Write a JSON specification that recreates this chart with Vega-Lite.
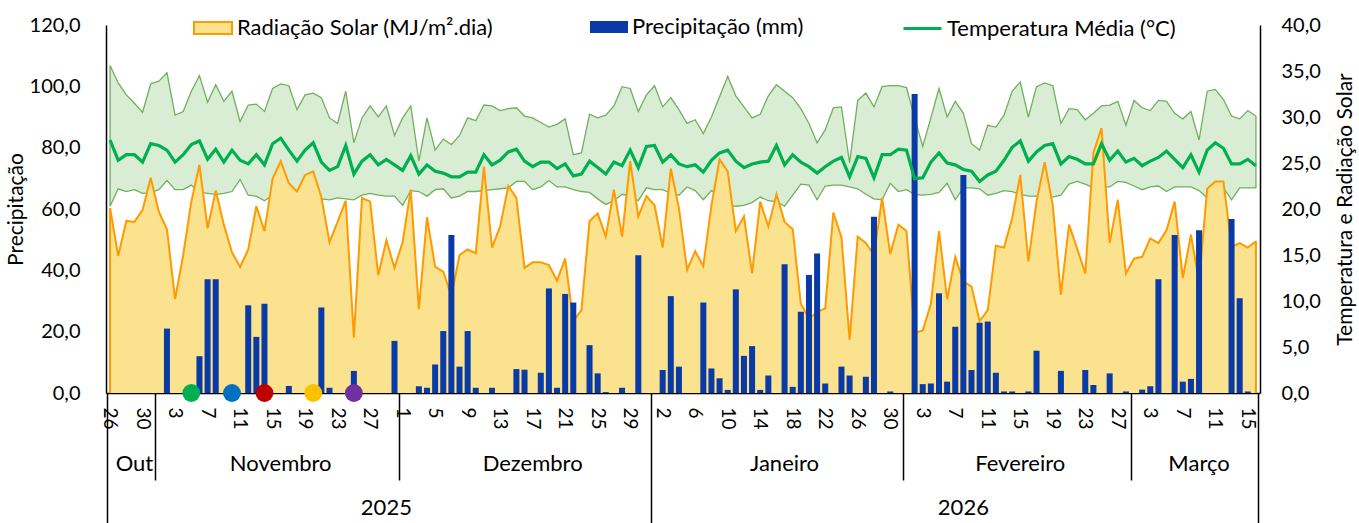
{
"$schema": "https://vega.github.io/schema/vega-lite/v6.json",
"width": 1154, "height": 368,
"autosize": {"type": "none"},
"padding": {"left": 106, "top": 25, "right": 99, "bottom": 130},
"config": {
  "font": "Lato",
  "view": {"stroke": null},
  "axis": {"labelFont": "Lato", "titleFont": "Lato", "labelColor": "#000", "titleColor": "#000", "labelFontSize": 20, "titleFontSize": 21, "titleFontWeight": "normal", "domainColor": "#000", "tickColor": "#000", "grid": false},
  "legend": {"labelFont": "Lato", "labelFontSize": 22, "labelColor": "#000", "labelLimit": 400, "padding": 0, "labelOffset": 4, "symbolSize": 1444, "symbolOpacity": 1}
},
"datasets": {
"w": [
{"d":"2025-10-26","p":0,"r":20.1,"tm":27.5,"tx":35.6,"tn":20.3},
{"d":"2025-10-27","p":0,"r":14.9,"tm":25.3,"tx":33.7,"tn":22.2},
{"d":"2025-10-28","p":0,"r":18.7,"tm":25.9,"tx":32.4,"tn":21.9},
{"d":"2025-10-29","p":0,"r":18.6,"tm":25.9,"tx":31.5,"tn":22.1},
{"d":"2025-10-30","p":0,"r":19.9,"tm":25.1,"tx":30.5,"tn":21.7},
{"d":"2025-10-31","p":0,"r":23.4,"tm":27.1,"tx":33.6,"tn":21.8},
{"d":"2025-11-01","p":0,"r":19.7,"tm":26.9,"tx":33.9,"tn":22.1},
{"d":"2025-11-02","p":21.0,"r":17.8,"tm":26.4,"tx":34.8,"tn":23.1},
{"d":"2025-11-03","p":0,"r":10.2,"tm":25.1,"tx":30.2,"tn":22.1},
{"d":"2025-11-04","p":0,"r":15.0,"tm":25.9,"tx":30.6,"tn":22.1},
{"d":"2025-11-05","p":0,"r":20.8,"tm":27.0,"tx":32.8,"tn":22.6},
{"d":"2025-11-06","p":12.0,"r":24.8,"tm":27.4,"tx":34.5,"tn":21.8},
{"d":"2025-11-07","p":37.1,"r":17.9,"tm":25.4,"tx":31.6,"tn":21.7},
{"d":"2025-11-08","p":37.1,"r":22.0,"tm":26.5,"tx":33.5,"tn":21.6},
{"d":"2025-11-09","p":0,"r":18.3,"tm":25.1,"tx":31.7,"tn":21.7},
{"d":"2025-11-10","p":0,"r":15.3,"tm":26.4,"tx":32.8,"tn":21.9},
{"d":"2025-11-11","p":0,"r":13.7,"tm":25.3,"tx":29.5,"tn":23.2},
{"d":"2025-11-12","p":28.6,"r":15.6,"tm":24.9,"tx":31.3,"tn":21.5},
{"d":"2025-11-13","p":18.3,"r":20.3,"tm":25.9,"tx":31.4,"tn":21.4},
{"d":"2025-11-14","p":29.1,"r":17.6,"tm":24.8,"tx":30.6,"tn":20.9},
{"d":"2025-11-15","p":0,"r":23.3,"tm":27.1,"tx":33.1,"tn":21.5},
{"d":"2025-11-16","p":0,"r":25.2,"tm":27.7,"tx":33.6,"tn":22.1},
{"d":"2025-11-17","p":2.3,"r":22.8,"tm":26.4,"tx":33.4,"tn":22.4},
{"d":"2025-11-18","p":0,"r":21.9,"tm":25.2,"tx":30.8,"tn":21.9},
{"d":"2025-11-19","p":0,"r":23.7,"tm":26.4,"tx":32.4,"tn":21.8},
{"d":"2025-11-20","p":0,"r":24.1,"tm":27.2,"tx":32.6,"tn":21.5},
{"d":"2025-11-21","p":27.9,"r":21.3,"tm":25.1,"tx":32.1,"tn":21.1},
{"d":"2025-11-22","p":1.7,"r":16.4,"tm":24.2,"tx":29.9,"tn":21.0},
{"d":"2025-11-23","p":0,"r":18.6,"tm":24.6,"tx":29.3,"tn":21.2},
{"d":"2025-11-24","p":0,"r":20.9,"tm":26.9,"tx":32.8,"tn":21.1},
{"d":"2025-11-25","p":7.2,"r":6.0,"tm":23.8,"tx":27.2,"tn":21.0},
{"d":"2025-11-26","p":0,"r":21.2,"tm":25.2,"tx":29.9,"tn":21.5},
{"d":"2025-11-27","p":0,"r":20.8,"tm":25.9,"tx":31.2,"tn":21.7},
{"d":"2025-11-28","p":0,"r":12.8,"tm":24.8,"tx":30.0,"tn":21.5},
{"d":"2025-11-29","p":0,"r":16.6,"tm":25.4,"tx":31.2,"tn":21.4},
{"d":"2025-11-30","p":17.0,"r":13.6,"tm":24.8,"tx":28.0,"tn":21.4},
{"d":"2025-12-01","p":0,"r":16.4,"tm":24.2,"tx":29.9,"tn":20.4},
{"d":"2025-12-02","p":0,"r":22.1,"tm":25.8,"tx":31.2,"tn":22.0},
{"d":"2025-12-03","p":2.2,"r":9.1,"tm":23.8,"tx":25.2,"tn":21.9},
{"d":"2025-12-04","p":1.7,"r":19.1,"tm":24.8,"tx":29.9,"tn":21.4},
{"d":"2025-12-05","p":9.3,"r":13.7,"tm":24.1,"tx":26.4,"tn":22.1},
{"d":"2025-12-06","p":20.2,"r":13.2,"tm":23.9,"tx":27.6,"tn":22.2},
{"d":"2025-12-07","p":51.5,"r":10.5,"tm":23.5,"tx":27.0,"tn":21.2},
{"d":"2025-12-08","p":8.6,"r":15.0,"tm":23.5,"tx":28.0,"tn":21.4},
{"d":"2025-12-09","p":20.2,"r":15.6,"tm":24.0,"tx":29.9,"tn":21.9},
{"d":"2025-12-10","p":1.7,"r":15.2,"tm":24.0,"tx":29.6,"tn":21.9},
{"d":"2025-12-11","p":0,"r":24.6,"tm":25.9,"tx":31.3,"tn":22.0},
{"d":"2025-12-12","p":1.7,"r":15.8,"tm":24.8,"tx":31.2,"tn":22.1},
{"d":"2025-12-13","p":0,"r":18.1,"tm":25.3,"tx":30.7,"tn":22.2},
{"d":"2025-12-14","p":0,"r":22.5,"tm":26.2,"tx":30.9,"tn":22.3},
{"d":"2025-12-15","p":7.8,"r":21.2,"tm":26.5,"tx":31.0,"tn":23.0},
{"d":"2025-12-16","p":7.6,"r":13.6,"tm":25.2,"tx":30.1,"tn":23.0},
{"d":"2025-12-17","p":0,"r":14.2,"tm":24.6,"tx":29.9,"tn":22.1},
{"d":"2025-12-18","p":6.6,"r":14.2,"tm":25.1,"tx":29.4,"tn":22.4},
{"d":"2025-12-19","p":34.1,"r":13.9,"tm":25.1,"tx":28.9,"tn":23.1},
{"d":"2025-12-20","p":1.7,"r":12.2,"tm":24.4,"tx":29.2,"tn":22.4},
{"d":"2025-12-21","p":32.3,"r":14.6,"tm":24.9,"tx":29.8,"tn":22.4},
{"d":"2025-12-22","p":29.5,"r":7.8,"tm":23.6,"tx":25.9,"tn":22.1},
{"d":"2025-12-23","p":0,"r":9.0,"tm":23.8,"tx":26.1,"tn":21.9},
{"d":"2025-12-24","p":15.6,"r":18.7,"tm":25.2,"tx":30.3,"tn":21.8},
{"d":"2025-12-25","p":6.4,"r":19.5,"tm":24.5,"tx":29.9,"tn":21.1},
{"d":"2025-12-26","p":0.3,"r":17.0,"tm":23.8,"tx":30.2,"tn":20.5},
{"d":"2025-12-27","p":0,"r":22.1,"tm":25.1,"tx":31.2,"tn":20.9},
{"d":"2025-12-28","p":1.7,"r":17.0,"tm":24.7,"tx":33.3,"tn":21.6},
{"d":"2025-12-29","p":0,"r":25.2,"tm":26.4,"tx":33.1,"tn":21.4},
{"d":"2025-12-30","p":44.9,"r":19.2,"tm":24.5,"tx":30.6,"tn":20.9},
{"d":"2025-12-31","p":0,"r":21.4,"tm":26.8,"tx":32.4,"tn":22.3},
{"d":"2026-01-01","p":0,"r":20.4,"tm":26.9,"tx":33.4,"tn":22.1},
{"d":"2026-01-02","p":7.5,"r":15.8,"tm":25.1,"tx":31.1,"tn":22.1},
{"d":"2026-01-03","p":31.6,"r":24.4,"tm":25.9,"tx":32.1,"tn":21.7},
{"d":"2026-01-04","p":8.6,"r":20.1,"tm":24.9,"tx":30.8,"tn":21.5},
{"d":"2026-01-05","p":0,"r":13.4,"tm":24.6,"tx":29.3,"tn":22.4},
{"d":"2026-01-06","p":0,"r":15.4,"tm":24.8,"tx":29.7,"tn":22.0},
{"d":"2026-01-07","p":29.5,"r":13.8,"tm":24.0,"tx":28.2,"tn":21.0},
{"d":"2026-01-08","p":8.0,"r":20.4,"tm":25.3,"tx":30.0,"tn":22.0},
{"d":"2026-01-09","p":4.8,"r":25.4,"tm":26.1,"tx":32.2,"tn":21.5},
{"d":"2026-01-10","p":1.0,"r":24.1,"tm":26.4,"tx":34.4,"tn":20.4},
{"d":"2026-01-11","p":33.8,"r":17.6,"tm":25.2,"tx":32.3,"tn":20.3},
{"d":"2026-01-12","p":12.1,"r":19.2,"tm":24.5,"tx":31.1,"tn":20.4},
{"d":"2026-01-13","p":15.3,"r":13.0,"tm":24.9,"tx":29.9,"tn":20.7},
{"d":"2026-01-14","p":1.0,"r":20.8,"tm":25.1,"tx":30.3,"tn":21.3},
{"d":"2026-01-15","p":5.7,"r":18.1,"tm":25.2,"tx":32.3,"tn":20.9},
{"d":"2026-01-16","p":0,"r":21.6,"tm":26.9,"tx":33.5,"tn":20.8},
{"d":"2026-01-17","p":42.0,"r":18.6,"tm":24.8,"tx":32.8,"tn":20.3},
{"d":"2026-01-18","p":2.0,"r":17.8,"tm":25.9,"tx":32.1,"tn":21.5},
{"d":"2026-01-19","p":26.5,"r":9.7,"tm":25.1,"tx":30.9,"tn":22.7},
{"d":"2026-01-20","p":38.5,"r":8.1,"tm":24.6,"tx":29.3,"tn":22.6},
{"d":"2026-01-21","p":45.5,"r":8.8,"tm":23.9,"tx":27.2,"tn":21.0},
{"d":"2026-01-22","p":3.1,"r":9.2,"tm":24.6,"tx":28.6,"tn":22.5},
{"d":"2026-01-23","p":0,"r":19.6,"tm":25.2,"tx":31.0,"tn":22.6},
{"d":"2026-01-24","p":8.6,"r":16.9,"tm":25.6,"tx":31.1,"tn":22.6},
{"d":"2026-01-25","p":5.7,"r":5.8,"tm":23.5,"tx":25.0,"tn":22.4},
{"d":"2026-01-26","p":0,"r":17.0,"tm":25.7,"tx":31.8,"tn":22.2},
{"d":"2026-01-27","p":5.3,"r":16.3,"tm":25.5,"tx":32.6,"tn":21.6},
{"d":"2026-01-28","p":57.5,"r":15.0,"tm":23.4,"tx":31.1,"tn":21.1},
{"d":"2026-01-29","p":0,"r":21.2,"tm":25.9,"tx":33.3,"tn":21.0},
{"d":"2026-01-30","p":0.5,"r":15.1,"tm":25.9,"tx":33.4,"tn":22.8},
{"d":"2026-01-31","p":0,"r":18.3,"tm":26.5,"tx":33.4,"tn":21.9},
{"d":"2026-02-01","p":0,"r":17.6,"tm":26.4,"tx":33.2,"tn":22.1},
{"d":"2026-02-02","p":97.5,"r":6.5,"tm":23.3,"tx":29.9,"tn":21.6},
{"d":"2026-02-03","p":2.9,"r":6.8,"tm":23.4,"tx":26.8,"tn":21.5},
{"d":"2026-02-04","p":3.1,"r":9.7,"tm":25.1,"tx":29.9,"tn":21.6},
{"d":"2026-02-05","p":32.5,"r":17.6,"tm":26.1,"tx":33.1,"tn":21.8},
{"d":"2026-02-06","p":3.7,"r":10.2,"tm":25.0,"tx":30.0,"tn":22.8},
{"d":"2026-02-07","p":21.6,"r":14.8,"tm":24.8,"tx":31.7,"tn":21.0},
{"d":"2026-02-08","p":71.1,"r":12.1,"tm":24.3,"tx":30.4,"tn":22.3},
{"d":"2026-02-09","p":7.5,"r":11.6,"tm":24.1,"tx":27.1,"tn":22.3},
{"d":"2026-02-10","p":22.9,"r":7.8,"tm":23.0,"tx":26.4,"tn":22.2},
{"d":"2026-02-11","p":23.3,"r":9.0,"tm":23.7,"tx":29.1,"tn":21.5},
{"d":"2026-02-12","p":6.6,"r":16.0,"tm":24.1,"tx":28.9,"tn":21.7},
{"d":"2026-02-13","p":0.5,"r":15.8,"tm":25.3,"tx":30.2,"tn":22.0},
{"d":"2026-02-14","p":0.5,"r":19.0,"tm":26.7,"tx":32.8,"tn":21.9},
{"d":"2026-02-15","p":0,"r":23.7,"tm":27.4,"tx":33.8,"tn":21.6},
{"d":"2026-02-16","p":0.5,"r":14.3,"tm":25.2,"tx":30.0,"tn":21.4},
{"d":"2026-02-17","p":13.8,"r":20.8,"tm":26.2,"tx":33.3,"tn":21.4},
{"d":"2026-02-18","p":0,"r":25.1,"tm":26.9,"tx":33.7,"tn":21.5},
{"d":"2026-02-19","p":0,"r":20.4,"tm":27.1,"tx":33.4,"tn":21.3},
{"d":"2026-02-20","p":7.2,"r":10.7,"tm":24.9,"tx":29.3,"tn":21.5},
{"d":"2026-02-21","p":0,"r":18.3,"tm":25.7,"tx":30.9,"tn":22.7},
{"d":"2026-02-22","p":0,"r":15.7,"tm":25.4,"tx":30.8,"tn":23.0},
{"d":"2026-02-23","p":7.5,"r":13.0,"tm":24.9,"tx":29.7,"tn":22.7},
{"d":"2026-02-24","p":2.6,"r":26.1,"tm":24.9,"tx":30.4,"tn":22.3},
{"d":"2026-02-25","p":0,"r":28.8,"tm":27.1,"tx":31.2,"tn":22.4},
{"d":"2026-02-26","p":6.4,"r":16.3,"tm":25.3,"tx":31.3,"tn":22.4},
{"d":"2026-02-27","p":0,"r":21.0,"tm":26.3,"tx":31.7,"tn":23.0},
{"d":"2026-02-28","p":0.5,"r":13.0,"tm":25.1,"tx":29.1,"tn":22.9},
{"d":"2026-03-01","p":0,"r":14.6,"tm":25.5,"tx":31.8,"tn":22.5},
{"d":"2026-03-02","p":1.1,"r":14.8,"tm":24.7,"tx":31.0,"tn":22.1},
{"d":"2026-03-03","p":2.2,"r":16.8,"tm":25.2,"tx":30.7,"tn":22.4},
{"d":"2026-03-04","p":37.1,"r":16.3,"tm":25.6,"tx":31.8,"tn":22.5},
{"d":"2026-03-05","p":0,"r":17.7,"tm":26.3,"tx":31.7,"tn":21.9},
{"d":"2026-03-06","p":51.5,"r":20.8,"tm":25.4,"tx":30.4,"tn":22.4},
{"d":"2026-03-07","p":3.7,"r":12.5,"tm":24.5,"tx":29.8,"tn":22.4},
{"d":"2026-03-08","p":4.6,"r":17.2,"tm":25.9,"tx":30.6,"tn":22.4},
{"d":"2026-03-09","p":53.1,"r":12.1,"tm":24.0,"tx":27.5,"tn":22.0},
{"d":"2026-03-10","p":0,"r":22.2,"tm":26.4,"tx":32.8,"tn":21.2},
{"d":"2026-03-11","p":0,"r":23.0,"tm":27.2,"tx":33.0,"tn":21.7},
{"d":"2026-03-12","p":0,"r":23.0,"tm":26.6,"tx":31.9,"tn":22.3},
{"d":"2026-03-13","p":56.7,"r":15.9,"tm":24.9,"tx":30.1,"tn":21.0},
{"d":"2026-03-14","p":30.9,"r":16.3,"tm":24.9,"tx":29.8,"tn":22.3},
{"d":"2026-03-15","p":0.5,"r":15.8,"tm":25.4,"tx":30.7,"tn":22.3},
{"d":"2026-03-16","p":0,"r":16.5,"tm":24.7,"tx":30.1,"tn":22.3}
],
"dots": [
{"d":"2025-11-05","k":"a"},
{"d":"2025-11-10","k":"b"},
{"d":"2025-11-14","k":"c"},
{"d":"2025-11-20","k":"d"},
{"d":"2025-11-25","k":"e"}
]
},
"data": {"name": "w"},
"layer": [
{
  "mark": {"type": "area", "fill": "#D9EDD4", "stroke": "#70B05C", "strokeWidth": 1.3},
  "encoding": {
    "x": {"field": "d", "type": "ordinal", "bandPosition": 0.5,
      "scale": {"type": "band", "paddingInner": 0.26, "paddingOuter": 0.13},
      "axis": {"orient": "bottom", "title": null,
        "values": ["2025-10-26","2025-10-30","2025-11-03","2025-11-07","2025-11-11","2025-11-15","2025-11-19","2025-11-23","2025-11-27","2025-12-01","2025-12-05","2025-12-09","2025-12-13","2025-12-17","2025-12-21","2025-12-25","2025-12-29","2026-01-02","2026-01-06","2026-01-10","2026-01-14","2026-01-18","2026-01-22","2026-01-26","2026-01-30","2026-02-03","2026-02-07","2026-02-11","2026-02-15","2026-02-19","2026-02-23","2026-02-27","2026-03-03","2026-03-07","2026-03-11","2026-03-15"],
        "labelExpr": "toNumber(slice(datum.value, 8))",
        "labelAngle": 90, "labelPadding": 14, "ticks": false, "tickSize": 0,
        "domain": true, "domainWidth": 1.5, "labelFontSize": 19}},
    "y": {"field": "tx", "type": "quantitative", "scale": {"domain": [0, 40], "nice": false, "zero": true},
      "axis": {"orient": "right", "values": [0,5,10,15,20,25,30,35,40],
        "labelExpr": "replace(format(datum.value, '.1f'), '.', ',')",
        "ticks": false, "tickSize": 0, "labelPadding": 21, "domainWidth": 1.5,
        "title": "Temperatura e Radiação Solar", "titleAngle": 270, "titlePadding": 35}},
    "y2": {"field": "tn"}
  }
},
{
  "mark": {"type": "area"},
  "encoding": {
    "x": {"field": "d", "type": "ordinal", "bandPosition": 0.5,
      "scale": {"type": "band", "paddingInner": 0.26, "paddingOuter": 0.13},
      "axis": {"orient": "bottom", "title": null, "values": ["2025-11-01","2025-12-01","2026-02-01","2026-03-01"],
        "bandPosition": 0, "labels": false, "domain": false, "ticks": true, "tickSize": 87, "tickWidth": 1.5}},
    "y": {"field": "r", "type": "quantitative", "scale": {"domain": [0, 40], "nice": false}, "axis": null},
    "fill": {"datum": "Radiação Solar (MJ/m².dia)",
      "scale": {"domain": ["Radiação Solar (MJ/m².dia)"], "range": ["#FAE28E"]},
      "legend": {"orient": "none", "legendX": 87, "legendY": -17, "title": null,
        "symbolType": "M-1,-0.32L1,-0.32L1,0.32L-1,0.32Z", "symbolStrokeColor": "#FF9A00", "symbolStrokeWidth": 2}}
  }
},
{
  "mark": {"type": "line", "color": "#FF9A00", "strokeWidth": 2},
  "encoding": {
    "x": {"field": "d", "type": "ordinal", "bandPosition": 0.5,
      "scale": {"type": "band", "paddingInner": 0.26, "paddingOuter": 0.13},
      "axis": {"orient": "bottom", "title": null, "values": ["2025-10-26","2026-01-01"],
        "bandPosition": 0, "labels": false, "domain": false, "ticks": true, "tickSize": 130, "tickWidth": 1.5}},
    "y": {"field": "r", "type": "quantitative", "scale": {"domain": [0, 40], "nice": false}, "axis": null}
  }
},
{
  "transform": [{"filter": {"field": "d", "oneOf": ["2025-10-26", "2026-03-16"]}}],
  "mark": {"type": "rule", "color": "#FF9A00", "strokeWidth": 2},
  "encoding": {
    "x": {"field": "d", "type": "ordinal", "bandPosition": 0.5,
      "scale": {"type": "band", "paddingInner": 0.26, "paddingOuter": 0.13},
      "axis": {"orient": "bottom", "title": null, "values": ["2026-03-16"],
        "bandPosition": 1, "labels": false, "domain": false, "ticks": true, "tickSize": 130, "tickWidth": 1.5}},
    "y": {"field": "r", "type": "quantitative", "scale": {"domain": [0, 40], "nice": false}, "axis": null},
    "y2": {"datum": 0}
  }
},
{
  "mark": {"type": "bar"},
  "encoding": {
    "x": {"field": "d", "type": "ordinal",
      "scale": {"type": "band", "paddingInner": 0.26, "paddingOuter": 0.13},
      "axis": {"orient": "bottom", "title": null,
        "values": ["2025-10-29","2025-11-16","2025-12-17","2026-01-17","2026-02-15","2026-03-09"],
        "bandPosition": 0,
        "labelExpr": "slice(datum.value,5,7) == '10' ? 'Out' : slice(datum.value,5,7) == '11' ? 'Novembro' : slice(datum.value,5,7) == '12' ? 'Dezembro' : slice(datum.value,5,7) == '01' ? 'Janeiro' : slice(datum.value,5,7) == '02' ? 'Fevereiro' : 'Março'",
        "labelAngle": 0, "labelPadding": 60, "ticks": false, "tickSize": 0, "domain": false, "labelFontSize": 22}},
    "y": {"field": "p", "type": "quantitative", "scale": {"domain": [0, 120], "nice": false},
      "axis": {"orient": "left", "values": [0,20,40,60,80,100,120],
        "labelExpr": "replace(format(datum.value, '.1f'), '.', ',')",
        "ticks": false, "tickSize": 0, "labelPadding": 26, "domainWidth": 1.5,
        "title": "Precipitação", "titlePadding": 3}},
    "color": {"datum": "Precipitação (mm)",
      "scale": {"domain": ["Precipitação (mm)"], "range": ["#0A3AA6"]},
      "legend": {"orient": "none", "legendX": 484, "legendY": -17, "title": null,
        "symbolType": "M-1,-0.32L1,-0.32L1,0.32L-1,0.32Z", "symbolStrokeWidth": 0}}
  }
},
{
  "mark": {"type": "line", "strokeWidth": 3.2},
  "encoding": {
    "x": {"field": "d", "type": "ordinal", "bandPosition": 0.5,
      "scale": {"type": "band", "paddingInner": 0.26, "paddingOuter": 0.13},
      "axis": {"orient": "bottom", "title": null, "values": ["2025-11-29","2026-02-08"],
        "bandPosition": 0,
        "labelExpr": "slice(datum.value, 0, 4)",
        "labelAngle": 0, "labelPadding": 104, "ticks": false, "tickSize": 0, "domain": false, "labelFontSize": 22}},
    "y": {"field": "tm", "type": "quantitative", "scale": {"domain": [0, 40], "nice": false}, "axis": null},
    "stroke": {"datum": "Temperatura Média (°C)",
      "scale": {"domain": ["Temperatura Média (°C)"], "range": ["#00B050"]},
      "legend": {"orient": "none", "legendX": 796, "legendY": -17, "title": null,
        "symbolType": "stroke", "symbolStrokeWidth": 3}}
  }
},
{
  "data": {"name": "dots"},
  "mark": {"type": "point", "filled": true, "size": 320, "opacity": 1, "strokeWidth": 0},
  "encoding": {
    "x": {"field": "d", "type": "ordinal", "bandPosition": 0.5,
      "scale": {"type": "band", "paddingInner": 0.26, "paddingOuter": 0.13}, "axis": null},
    "y": {"datum": 0, "type": "quantitative", "scale": {"domain": [0, 120], "nice": false}, "axis": null},
    "fill": {"field": "k", "type": "nominal",
      "scale": {"domain": ["a","b","c","d","e"], "range": ["#00B050","#0070C0","#C00000","#FFC000","#7030A0"]},
      "legend": null}
  }
}
],
"resolve": {"scale": {"y": "independent", "fill": "independent"}, "legend": {"fill": "independent"}, "axis": {"x": "independent", "y": "independent"}}
}
